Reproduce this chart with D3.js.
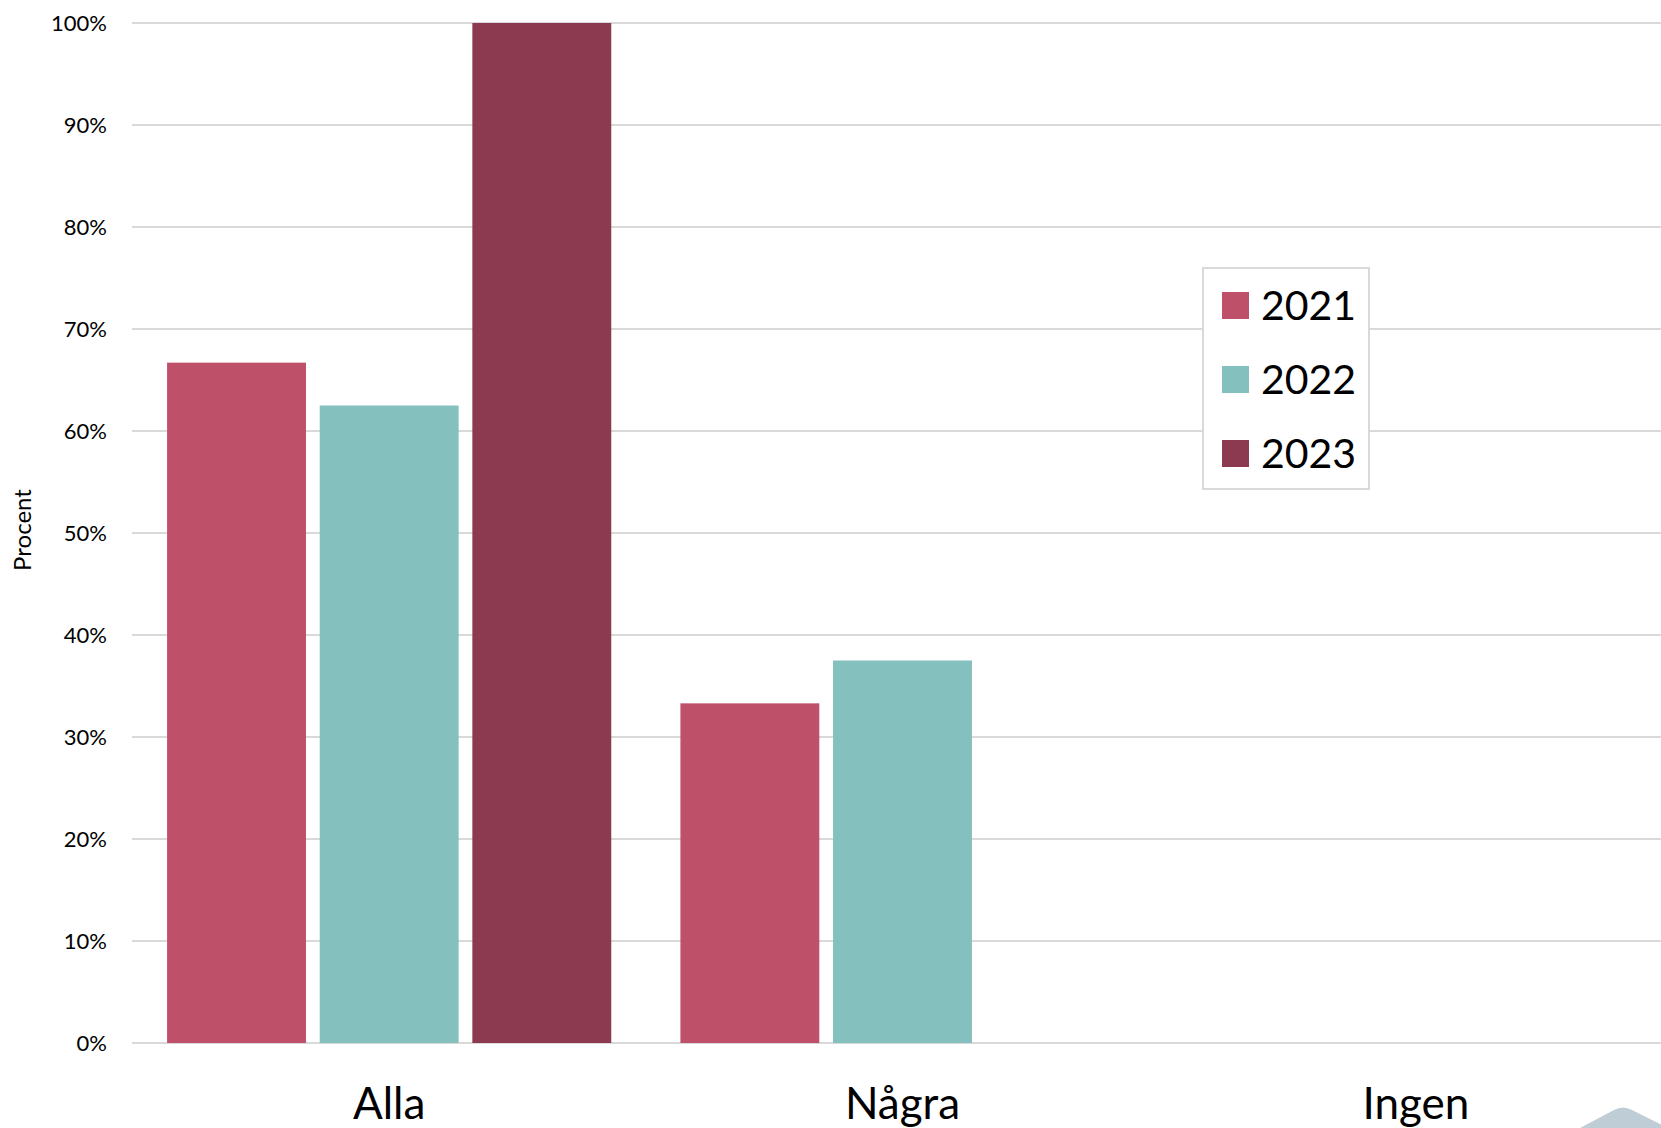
<!DOCTYPE html>
<html>
<head>
<meta charset="utf-8">
<script src="https://cdn.jsdelivr.net/npm/d3@7/dist/d3.min.js"></script>
<style>
html,body{margin:0;padding:0;background:#fff;}
svg{display:block;}
</style>
</head>
<body>
<script>
const categories = ["Alla", "Några", "Ingen"];
const seriesNames = ["2021", "2022", "2023"];
const values2021 = [66.7, 33.3, 0];
const values2022 = [62.5, 37.5, 0];
const values2023 = [100, 0, 0];
const yTicks = [0, 10, 20, 30, 40, 50, 60, 70, 80, 90, 100];
const colors = ["#be5169", "#84c0be", "#8b3a50"];
const seriesValues = [values2021, values2022, values2023];

const W = 1661, H = 1128;
const svg = d3.select("body").append("svg").attr("width", W).attr("height", H);
const font = "Lato, 'Open Sans', sans-serif";

const x0 = d3.scaleBand().domain(categories).range([132.5, 1672.5]).paddingInner(0).paddingOuter(0);
const x1 = d3.scaleBand().domain(seriesNames).range([0, x0.bandwidth()]).paddingInner(0.09).paddingOuter(0.2265);
const y = d3.scaleLinear().domain([0, 100]).range([1043, 23]);

// gridlines
svg.append("g").selectAll("line").data(yTicks).join("line")
  .attr("x1", 132).attr("x2", W)
  .attr("y1", d => y(d)).attr("y2", d => y(d))
  .attr("stroke", "#d9d9d9").attr("stroke-width", 2);

// y axis labels
const yAxis = d3.axisLeft(y).tickValues(yTicks).tickFormat(d => d + "%").tickSize(0).tickPadding(0);
const gy = svg.append("g").attr("transform", "translate(107,0)").call(yAxis);
gy.select(".domain").remove();
gy.selectAll("text").attr("font-family", font).attr("font-size", 22).attr("fill", "#000").attr("dy", "0.35em");

// bars
const data = [];
categories.forEach((c, i) => seriesNames.forEach((s, j) => data.push({c, s, v: seriesValues[j][i], color: colors[j]})));
svg.append("g").selectAll("rect").data(data.filter(d => d.v > 0)).join("rect")
  .attr("x", d => x0(d.c) + x1(d.s))
  .attr("width", x1.bandwidth())
  .attr("y", d => y(d.v))
  .attr("height", d => y(0) - y(d.v))
  .attr("fill", d => d.color);

// x axis labels
const xAxis = d3.axisBottom(x0).tickSize(0).tickPadding(0);
const gx = svg.append("g").attr("transform", "translate(0,1119)").call(xAxis);
gx.select(".domain").remove();
gx.selectAll("text").attr("font-family", font).attr("font-size", 44).attr("fill", "#000").attr("dy", "0");

// y title
svg.append("text").attr("transform", "translate(31,530) rotate(-90)")
  .attr("text-anchor", "middle").attr("font-family", font).attr("font-size", 24).attr("fill", "#000")
  .text("Procent");

// legend
const lg = svg.append("g");
lg.append("rect").attr("x", 1203).attr("y", 268).attr("width", 166).attr("height", 221)
  .attr("fill", "#fff").attr("stroke", "#d9d9d9").attr("stroke-width", 2);
seriesNames.forEach((s, i) => {
  const yy = 292 + i * 74;
  lg.append("rect").attr("x", 1222).attr("y", yy).attr("width", 27).attr("height", 27).attr("fill", colors[i]);
  lg.append("text").attr("x", 1261).attr("y", yy + 13.5).attr("dy", "0.36em")
    .attr("font-family", font).attr("font-size", 41).attr("fill", "#000").text(s);
});

// decorative corner shape
svg.append("path")
  .attr("d", "M1580,1128 L1614,1110 Q1623,1105 1632,1110 L1668,1128 Z")
  .attr("fill", "#bfcdd6");
</script>
</body>
</html>
